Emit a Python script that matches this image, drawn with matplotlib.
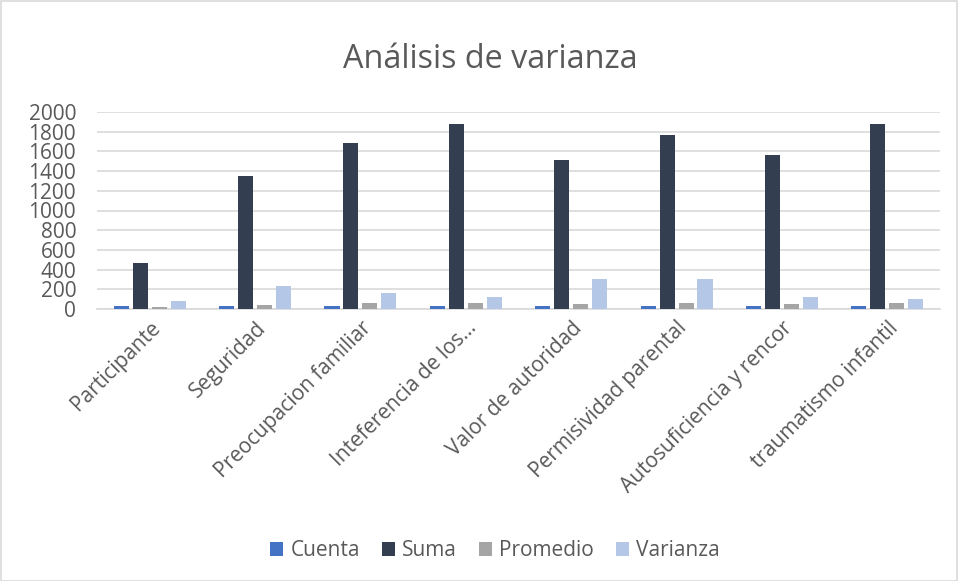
import matplotlib
matplotlib.use("Agg")
import matplotlib.pyplot as plt
import numpy as np
from matplotlib.patches import Rectangle

categories = ["Participante", "Seguridad", "Preocupacion familiar", "Inteferencia de los...",
              "Valor de autoridad", "Permisividad parental", "Autosuficiencia y rencor",
              "traumatismo infantil"]
cuenta = [30, 30, 30, 30, 30, 30, 30, 30]
suma = [465, 1351, 1687, 1877, 1510, 1762, 1565, 1881]
promedio = [15.5, 45, 56, 62.6, 50, 58.7, 52, 62.7]
varianza = [77.5, 231, 159, 122, 305, 309, 122, 102]
series_names = ["Cuenta", "Suma", "Promedio", "Varianza"]
colors = ["#4472C4", "#333F50", "#A5A5A5", "#B4C7E7"]
yticks = [0, 200, 400, 600, 800, 1000, 1200, 1400, 1600, 1800, 2000]

plt.rcParams['font.family'] = ['Open Sans', 'DejaVu Sans']
text_color = "#595959"

fig = plt.figure(figsize=(9.58, 5.81), dpi=100)
W, H = 958, 581
ax = fig.add_axes([97 / W, 1 - 309 / H, (940 - 97) / W, (309 - 112) / H])

x = np.arange(len(categories))
step = 0.18
bw = 0.143
for i, (vals, name, c) in enumerate(zip([cuenta, suma, promedio, varianza], series_names, colors)):
    ax.bar(x + (i - 1.5) * step, vals, width=bw, color=c, label=name, zorder=3)

ax.set_xlim(-0.5, len(categories) - 0.5)
ax.set_ylim(0, 2000)
ax.set_yticks(yticks)
ax.set_yticklabels([str(v) for v in yticks], fontsize=15, color=text_color)
ax.yaxis.grid(True, color="#D9D9D9", linewidth=1.2, zorder=0)
ax.tick_params(axis='y', length=0, pad=15)
ax.tick_params(axis='x', length=0, pad=6)
ax.set_xticks(x)
ax.set_xticklabels(categories, rotation=45, ha='right', rotation_mode='anchor',
                   fontsize=15, color=text_color)
for s in ["top", "right", "left"]:
    ax.spines[s].set_visible(False)
ax.spines["bottom"].set_color("#D9D9D9")
ax.spines["bottom"].set_linewidth(1.2)

fig.text(490 / W, 1 - 60 / H, "Análisis de varianza", ha='center', va='center',
         fontsize=23.3, color=text_color)

leg = fig.legend(loc='center', bbox_to_anchor=(495 / W, 1 - 551 / H), ncol=4, frameon=False,
                 fontsize=15, handlelength=0.62, handleheight=0.62, handletextpad=0.35,
                 columnspacing=1.05)
for t in leg.get_texts():
    t.set_color(text_color)

fig.patches.append(Rectangle((0.5 / W, 0.5 / H), 1 - 1.5 / W, 1 - 1.5 / H, transform=fig.transFigure,
                             fill=False, edgecolor="#D9D9D9", linewidth=1.2))

fig.savefig("out.png", dpi=100)
